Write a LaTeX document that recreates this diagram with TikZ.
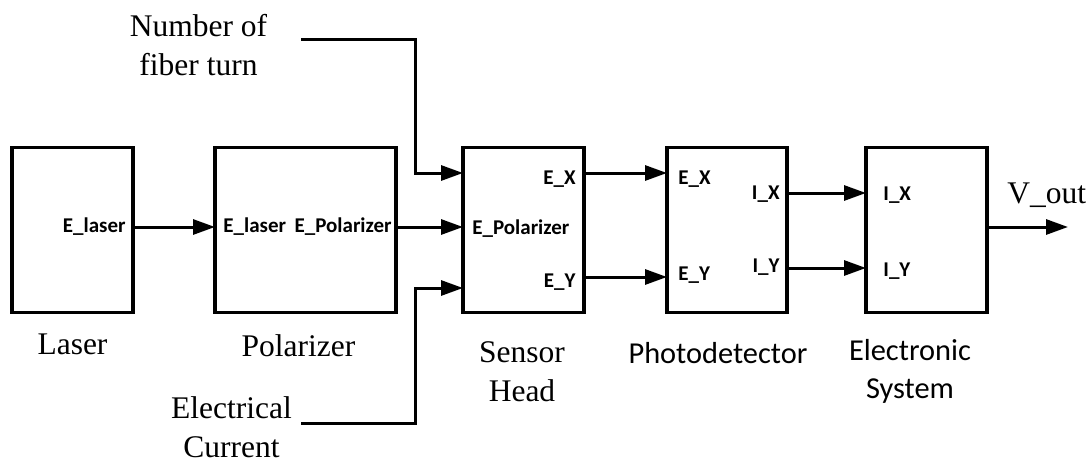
\documentclass[tikz,border=0pt]{standalone}
\usepackage{fontspec}
\setmainfont{Liberation Serif}
\newfontfamily\calfont{Carlito}
\usetikzlibrary{arrows.meta, positioning}

\begin{document}
\begin{tikzpicture}[
    block/.style={draw, line width=1.6pt, minimum height=82.5pt, inner sep=0pt, outer sep=0pt},
    port/.style={font=\calfont\bfseries\fontsize{10.5}{12}\selectfont, inner sep=0pt},
    title/.style={font=\fontsize{15.75}{19.5}\selectfont, align=center, inner sep=0pt},
    stitle/.style={font=\calfont\fontsize{15.2}{19}\selectfont, align=center, inner sep=0pt},
    arr/.style={-{Triangle[length=11pt, width=7.5pt]}, line width=1.5pt}
  ]
  \useasboundingbox (0,0) rectangle (544.5pt,-230.5pt);

  % --- Blocks ---
  \node[block, minimum width=60.5pt] (laser) at (36.25pt,-115pt) {};
  \node[block, minimum width=90.5pt, right=41pt of laser] (pol) {};
  \node[block, minimum width=60.5pt, right=33.5pt of pol] (sensor) {};
  \node[block, minimum width=60pt, right=41.5pt of sensor] (photo) {};
  \node[block, minimum width=60.5pt, right=39.5pt of photo] (elec) {};

  % --- Port labels ---
  \node[port, anchor=east] (laserout) at ([xshift=-3.5pt, yshift=1.5pt]laser.east) {E\_laser};
  \node[port, anchor=west] (polin) at ([xshift=4pt, yshift=1.5pt]pol.west) {E\_laser};
  \node[port, anchor=east] (polout) at ([xshift=-2pt, yshift=1.5pt]pol.east) {E\_Polarizer};
  \node[port, anchor=west] (sensorin) at ([xshift=4.5pt, yshift=0.5pt]sensor.west) {E\_Polarizer};
  \node[port, anchor=east] (sensorx) at ([xshift=-4pt, yshift=25.5pt]sensor.east) {E\_X};
  \node[port, anchor=east] (sensory) at ([xshift=-4pt, yshift=-26pt]sensor.east) {E\_Y};
  \node[port, anchor=west] (photoex) at ([xshift=5.5pt, yshift=25.5pt]photo.west) {E\_X};
  \node[port, anchor=west] (photoey) at ([xshift=5.5pt, yshift=-22.5pt]photo.west) {E\_Y};
  \node[port, anchor=east] (photoix) at ([xshift=-3.5pt, yshift=18pt]photo.east) {I\_X};
  \node[port, anchor=east] (photoiy) at ([xshift=-3.5pt, yshift=-18.5pt]photo.east) {I\_Y};
  \node[port, anchor=west] (elecix) at ([xshift=8.5pt, yshift=17.5pt]elec.west) {I\_X};
  \node[port, anchor=west] (eleciy) at ([xshift=8.5pt, yshift=-20.5pt]elec.west) {I\_Y};

  % --- Block titles ---
  \node[title, below=10.25pt of laser] (lasertitle) {Laser};
  \node[title, below=11pt of pol, xshift=-3.5pt] (poltitle) {Polarizer};
  \node[title, below=14.6pt of sensor, xshift=-0.75pt] (sensortitle) {Sensor\\Head};
  \node[stitle, below=14.75pt of photo, xshift=-4.5pt] (phototitle) {Photodetector};
  \node[stitle, below=13.25pt of elec, xshift=-8.25pt] (electitle) {Electronic\\System};

  % --- Side inputs ---
  \node[title, anchor=north] (turns) at (99.25pt,-6.75pt) {Number of\\fiber turn};
  \node[title, anchor=north] (current) at (115.75pt,-198pt) {Electrical\\Current};
  \coordinate (turnsin) at (150.5pt,-19.5pt);
  \coordinate (currin) at (150.5pt,-211.5pt);

  % --- Arrows ---
  \draw[arr] (turnsin) -| ([xshift=-24pt, yshift=28.5pt]sensor.west) -- ([yshift=28.5pt]sensor.west);
  \draw[arr] (currin) -| ([xshift=-24pt, yshift=-29pt]sensor.west) -- ([yshift=-29pt]sensor.west);
  \draw[arr] ([yshift=1.5pt]laser.east) -- ([yshift=1.5pt]pol.west);
  \draw[arr] ([yshift=1.5pt]pol.east) -- ([yshift=1.5pt]sensor.west);
  \draw[arr] ([yshift=28.5pt]sensor.east) -- ([yshift=28.5pt]photo.west);
  \draw[arr] ([yshift=-23.5pt]sensor.east) -- ([yshift=-23.5pt]photo.west);
  \draw[arr] ([yshift=18.5pt]photo.east) -- ([yshift=18.5pt]elec.west);
  \draw[arr] ([yshift=-19pt]photo.east) -- ([yshift=-19pt]elec.west);
  \coordinate (voutend) at ([xshift=40.5pt, yshift=1.5pt]elec.east);
  \draw[arr] ([yshift=1.5pt]elec.east) -- (voutend);
  \node[title, anchor=base west] (vout) at ([xshift=10pt, yshift=13.5pt]elec.east) {V\_out};

\end{tikzpicture}
\end{document}
